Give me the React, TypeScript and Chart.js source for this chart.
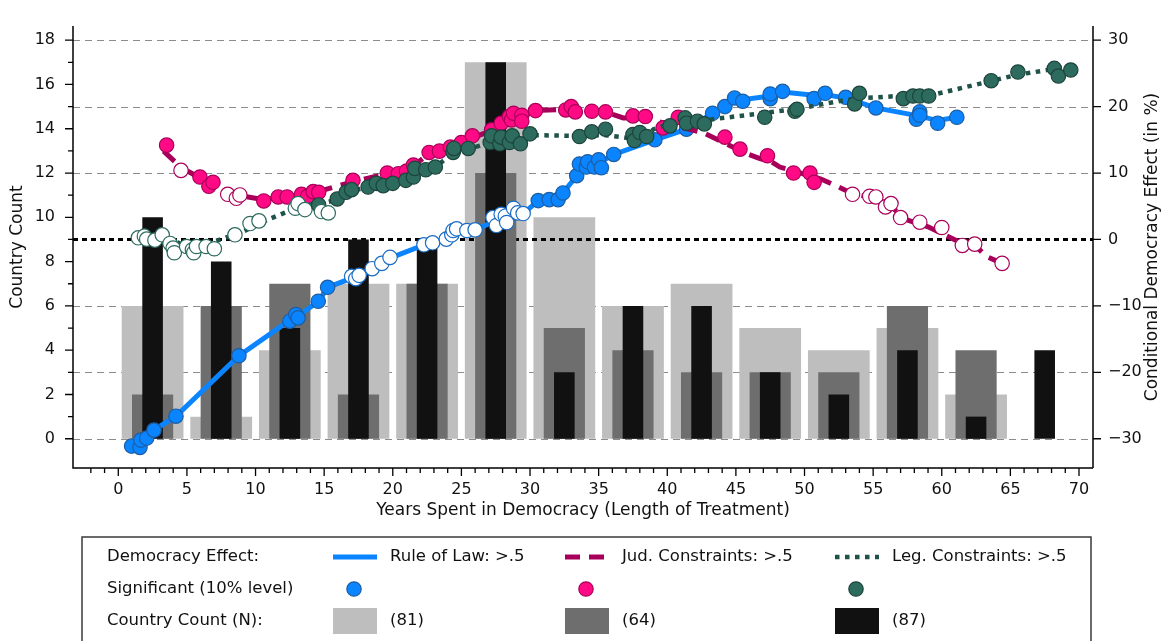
import React, { useEffect, useRef } from "react";
import { Chart, registerables } from "chart.js";

Chart.register(...registerables);

const FONT = '"DejaVu Sans", "Liberation Sans", Arial, sans-serif';

// ---------- Histogram (country counts, left axis) ----------
const binCenters = [2.5, 7.5, 12.5, 17.5, 22.5, 27.5, 32.5, 37.5, 42.5, 47.5, 52.5, 57.5, 62.5, 67.5];
const countRuleOfLaw = [6, 1, 4, 7, 7, 17, 10, 6, 7, 5, 4, 5, 2, 0];
const countJudicial = [2, 6, 7, 2, 7, 12, 5, 4, 3, 3, 3, 6, 4, 0];
const countLegislative = [10, 8, 5, 9, 9, 17, 3, 6, 6, 3, 2, 4, 1, 4];

// ---------- Tick labels ----------
const xTickValues = [0, 5, 10, 15, 20, 25, 30, 35, 40, 45, 50, 55, 60, 65, 70];
const countTickValues = [0, 2, 4, 6, 8, 10, 12, 14, 16, 18];
const effectTickValues = [-30, -20, -10, 0, 10, 20, 30];

// ---------- Axis ranges (left count axis and right effect axis share the frame) ----------
const xRange = [-3.3, 71.02];
const countRange = [-1.32, 18.64];
const countAtZeroEffect = 9;
const countPerEffectPoint = 0.3;

// ---------- Conditional democracy effect markers: [years, effect %, significant] ----------
const ruleOfLawMarkers = [
  [0.97, -31.1, 1], [1.58, -31.3, 1], [1.65, -30.2, 1], [2.07, -29.9, 1], [2.6, -28.7, 1],
  [4.2, -26.6, 1], [8.79, -17.5, 1], [12.5, -12.3, 1], [12.94, -11.3, 1], [13.1, -11.8, 1],
  [14.57, -9.3, 1], [15.25, -7.2, 1],
  [17.0, -5.55, 0], [17.3, -5.9, 0], [17.55, -5.4, 0], [18.5, -4.4, 0], [19.2, -3.6, 0],
  [19.8, -2.7, 0], [22.27, -0.8, 0], [22.9, -0.5, 0], [23.9, 0.05, 0], [24.3, 0.7, 0],
  [24.4, 1.35, 0], [24.65, 1.6, 0], [25.4, 1.35, 0], [26.0, 1.45, 0], [27.3, 3.3, 0],
  [27.55, 2.1, 0], [27.9, 3.8, 0], [28.2, 3.5, 0], [28.3, 2.55, 0], [28.8, 4.7, 0],
  [29.1, 4.0, 0], [29.5, 3.9, 0],
  [30.6, 5.85, 1], [31.4, 6.0, 1], [32.05, 6.0, 1], [32.4, 7.0, 1], [33.4, 9.6, 1],
  [33.6, 11.35, 1], [34.1, 10.9, 1], [34.2, 11.7, 1], [34.7, 10.9, 1], [35.0, 12.0, 1],
  [35.2, 10.8, 1], [36.1, 12.8, 1], [39.1, 15.0, 1], [41.4, 16.6, 1], [43.3, 19.0, 1],
  [44.2, 20.0, 1], [44.9, 21.3, 1], [45.5, 20.8, 1], [47.5, 21.2, 1], [47.5, 21.9, 1],
  [48.4, 22.3, 1], [50.7, 21.2, 1], [51.5, 22.0, 1], [53.0, 21.4, 1], [55.2, 19.8, 1],
  [58.15, 18.1, 1], [58.4, 19.2, 1], [58.4, 18.7, 1], [59.7, 17.5, 1], [61.1, 18.4, 1],
];

const judicialMarkers = [
  [3.52, 14.2, 1], [4.57, 10.4, 0], [5.95, 9.4, 1], [6.6, 8.0, 1], [6.9, 8.6, 1],
  [7.97, 6.8, 0], [8.6, 6.2, 0], [8.86, 6.7, 0],
  [10.6, 5.8, 1], [11.65, 6.4, 1], [12.3, 6.4, 1], [13.35, 6.8, 1], [13.8, 6.5, 1],
  [14.2, 7.2, 1], [14.6, 7.1, 1], [17.1, 8.9, 1], [19.6, 10.0, 1], [20.4, 9.9, 1],
  [21.0, 10.3, 1], [21.5, 11.2, 1], [22.65, 13.1, 1], [23.4, 13.3, 1], [24.2, 13.9, 1],
  [25.0, 14.6, 1], [25.8, 15.6, 1], [27.2, 16.5, 1], [27.9, 17.5, 1], [28.5, 18.5, 1],
  [28.65, 18.0, 1], [28.8, 19.0, 1], [29.4, 18.7, 1], [29.4, 17.8, 1], [30.4, 19.4, 1],
  [32.6, 19.5, 1], [33.0, 20.0, 1], [33.3, 19.2, 1], [34.5, 19.3, 1], [35.5, 19.2, 1],
  [37.5, 18.6, 1], [38.4, 18.5, 1], [39.7, 16.8, 1], [40.8, 18.4, 1], [44.2, 15.4, 1],
  [45.3, 13.6, 1], [47.3, 12.6, 1], [49.2, 10.0, 1], [50.4, 10.0, 1], [50.7, 8.6, 1],
  [53.5, 6.8, 0], [54.75, 6.5, 0], [55.2, 6.4, 0], [55.9, 4.9, 0], [56.3, 5.4, 0],
  [57.0, 3.3, 0], [58.4, 2.6, 0], [60.0, 1.8, 0], [61.5, -0.9, 0], [62.4, -0.7, 0],
  [64.4, -3.6, 0],
];

const legislativeMarkers = [
  [1.46, 0.25, 0], [1.9, 0.5, 0], [2.07, 0.05, 0], [2.67, -0.1, 0], [3.2, 0.7, 0],
  [3.77, -0.6, 0], [4.0, -1.3, 0], [4.08, -2.0, 0], [4.98, -1.06, 0], [5.4, -1.55, 0],
  [5.5, -2.0, 0], [5.7, -1.06, 0], [6.4, -1.06, 0], [7.0, -1.4, 0], [8.5, 0.7, 0],
  [9.6, 2.4, 0], [10.25, 2.8, 0], [12.9, 4.7, 0], [13.1, 5.4, 0], [13.6, 4.5, 0],
  [14.6, 5.2, 1], [14.8, 4.2, 0], [15.3, 4.0, 0],
  [15.95, 6.1, 1], [16.6, 7.1, 1], [17.0, 7.5, 1], [18.2, 7.9, 1], [18.8, 8.45, 1],
  [19.3, 8.1, 1], [20.0, 8.45, 1], [20.95, 8.9, 1], [21.5, 9.4, 1], [21.6, 10.7, 1],
  [22.4, 10.5, 1], [23.1, 10.9, 1], [24.4, 13.1, 1], [24.45, 13.7, 1], [25.5, 13.7, 1],
  [27.1, 14.6, 1], [27.2, 15.6, 1], [27.8, 14.4, 1], [27.9, 15.4, 1], [28.5, 14.6, 1],
  [28.7, 15.6, 1], [29.3, 14.4, 1], [30.0, 15.9, 1], [33.6, 15.5, 1], [34.5, 16.2, 1],
  [35.5, 16.6, 1], [37.5, 15.8, 1], [37.6, 14.9, 1], [38.0, 16.1, 1], [38.5, 15.5, 1],
  [40.2, 17.1, 1], [41.3, 18.3, 1], [41.4, 17.5, 1], [42.2, 17.8, 1], [42.7, 17.4, 1],
  [47.1, 18.4, 1], [49.3, 19.3, 1], [49.45, 19.6, 1], [53.65, 20.4, 1], [54.0, 22.0, 1],
  [57.2, 21.2, 1], [57.9, 21.6, 1], [58.4, 21.6, 1], [59.05, 21.6, 1], [63.6, 23.9, 1],
  [65.55, 25.2, 1], [68.2, 25.75, 1], [68.5, 24.6, 1], [69.4, 25.5, 1],
];

// ---------- Fitted effect lines: [years, effect %] ----------
const ruleOfLawLine = [
  [0.97, -31.1], [1.65, -30.2], [2.6, -28.7], [4.2, -26.6], [8.8, -17.5], [12.6, -12.0],
  [13.1, -11.5], [14.6, -9.3], [15.25, -7.2], [17.3, -5.6], [18.5, -4.4], [19.8, -2.8],
  [22.3, -0.8], [23.9, 0.1], [24.6, 1.2], [26.0, 1.5], [27.3, 2.6], [28.3, 3.4],
  [29.5, 3.9], [30.6, 5.85], [31.4, 6.0], [32.1, 6.1], [32.4, 7.0], [33.4, 9.6],
  [34.0, 11.2], [35.0, 11.5], [36.1, 12.8], [39.1, 15.0], [41.4, 16.6], [43.3, 19.0],
  [44.2, 20.0], [45.0, 20.9], [47.5, 21.6], [48.4, 22.2], [50.7, 21.7], [51.5, 21.8],
  [53.0, 21.3], [55.2, 19.8], [58.3, 18.6], [59.7, 17.9], [61.1, 18.4],
];
const judicialLine = [
  [3.3, 13.3], [4.6, 10.8], [6.0, 9.2], [6.9, 8.4], [8.0, 7.2], [8.9, 6.6], [10.6, 6.0],
  [11.7, 6.3], [12.3, 6.4], [14.2, 7.0], [17.1, 8.7], [19.6, 9.9], [21.0, 10.5],
  [21.5, 11.1], [22.6, 12.8], [24.2, 13.9], [25.8, 15.3], [27.2, 16.4], [28.5, 17.9],
  [29.4, 18.4], [30.4, 19.4], [32.6, 19.6], [35.5, 19.2], [36.8, 18.3], [38.4, 18.2],
  [39.1, 17.9], [40.5, 17.1], [42.6, 16.1], [43.8, 14.9], [45.8, 12.9], [46.7, 12.2],
  [47.6, 11.7], [48.2, 10.9], [51.2, 9.1], [52.3, 8.1], [53.5, 6.9], [55.2, 6.2],
  [56.3, 5.0], [57.4, 3.0], [59.0, 1.9], [60.3, 0.6], [61.5, -0.6], [62.6, -1.2],
  [63.2, -2.5], [64.4, -3.6],
];
const legislativeLine = [
  [1.46, 0.3], [3.2, 0.4], [4.5, -0.6], [5.7, -1.0], [7.3, -0.1], [9.0, 1.1], [10.9, 3.0],
  [12.1, 4.0], [13.6, 5.2], [14.6, 5.3], [16.0, 6.0], [17.0, 7.3], [18.5, 8.0],
  [20.0, 8.4], [21.0, 8.9], [21.6, 10.0], [23.1, 10.9], [24.4, 13.0], [25.5, 13.6],
  [27.1, 14.6], [28.5, 15.0], [30.0, 15.7], [33.6, 15.6], [35.5, 15.7], [37.5, 15.2],
  [38.5, 15.6], [39.0, 16.6], [40.0, 17.3], [42.5, 17.6], [43.3, 18.1], [46.9, 19.0],
  [48.8, 19.5], [50.1, 19.9], [53.0, 21.0], [54.5, 21.3], [56.9, 21.6], [59.6, 21.9],
  [63.5, 23.8], [65.5, 24.8], [68.0, 25.6],
];

const seriesStyles = [
  {
    label: "Rule of Law: >.5", markers: ruleOfLawMarkers, line: ruleOfLawLine,
    lineColor: "#0A84FF", lineWidth: 5, dash: [] as number[],
    fill: "#0A84FF", border: "#1E5DA0", openBorder: "#1A6CC4",
    barColor: "#BEBEBE", counts: countRuleOfLaw,
  },
  {
    label: "Jud. Constraints: >.5", markers: judicialMarkers, line: judicialLine,
    lineColor: "#A8005A", lineWidth: 5, dash: [15, 9],
    fill: "#FF0A84", border: "#A8005A", openBorder: "#A8005A",
    barColor: "#6E6E6E", counts: countJudicial,
  },
  {
    label: "Leg. Constraints: >.5", markers: legislativeMarkers, line: legislativeLine,
    lineColor: "#1F5248", lineWidth: 4.5, dash: [4.5, 5.5],
    fill: "#2E6B5F", border: "#1C443B", openBorder: "#2E6B5F",
    barColor: "#111111", counts: countLegislative,
  },
];

const barFractions = [0.9, 0.6, 0.3];

const sum = (a: number[]) => a.reduce((s, v) => s + v, 0);

const decorPlugin = {
  id: "decor",
  beforeDatasetsDraw(chart: any) {
    const { ctx, chartArea: a, scales } = chart;
    ctx.save();
    ctx.strokeStyle = "#8c8c8c";
    ctx.lineWidth = 1.2;
    ctx.setLineDash([7, 5]);
    for (const v of effectTickValues) {
      if (v === 0) continue;
      const py = Math.round(scales.y2.getPixelForValue(v)) + 0.5;
      ctx.beginPath();
      ctx.moveTo(a.left, py);
      ctx.lineTo(a.right, py);
      ctx.stroke();
    }
    ctx.restore();
  },
  afterDatasetDraw(chart: any, args: any) {
    if (args.index !== 0) return;
    const { ctx, chartArea: a, scales } = chart;
    const py = scales.y2.getPixelForValue(0);
    ctx.save();
    ctx.strokeStyle = "#000";
    ctx.lineWidth = 3;
    ctx.setLineDash([5, 4]);
    ctx.beginPath();
    ctx.moveTo(a.left, py);
    ctx.lineTo(a.right, py);
    ctx.stroke();
    ctx.restore();
  },
  afterDraw(chart: any) {
    const { ctx, chartArea: a, scales } = chart;
    ctx.save();
    ctx.setLineDash([]);
    ctx.strokeStyle = "#000";
    // axis lines
    ctx.lineWidth = 1.5;
    ctx.beginPath();
    ctx.moveTo(a.left, a.top);
    ctx.lineTo(a.left, a.bottom);
    ctx.lineTo(a.right, a.bottom);
    ctx.moveTo(a.right, a.top);
    ctx.lineTo(a.right, a.bottom);
    ctx.stroke();
    // ticks
    ctx.lineWidth = 1.3;
    ctx.beginPath();
    for (let v = 0; v <= countTickValues[countTickValues.length - 1]; v++) {
      const py = scales.y.getPixelForValue(v);
      const len = countTickValues.includes(v) ? 8 : 5;
      ctx.moveTo(a.left - len, py);
      ctx.lineTo(a.left, py);
    }
    for (const v of effectTickValues) {
      const py = scales.y2.getPixelForValue(v);
      ctx.moveTo(a.right, py);
      ctx.lineTo(a.right + 8, py);
    }
    for (let v = -2; v <= xTickValues[xTickValues.length - 1]; v++) {
      const px = scales.x.getPixelForValue(v);
      const len = xTickValues.includes(v) ? 8 : 5;
      ctx.moveTo(px, a.bottom);
      ctx.lineTo(px, a.bottom + len);
    }
    ctx.stroke();

    // axis titles
    ctx.fillStyle = "#111";
    ctx.font = `17px ${FONT}`;
    ctx.textAlign = "center";
    ctx.textBaseline = "middle";
    const midY = (a.top + a.bottom) / 2;
    ctx.fillText("Years Spent in Democracy (Length of Treatment)", (a.left + a.right) / 2, a.bottom + 43);
    ctx.save();
    ctx.translate(18, midY);
    ctx.rotate(-Math.PI / 2);
    ctx.fillText("Country Count", 0, 0);
    ctx.restore();
    ctx.save();
    ctx.translate(a.right + 60, midY);
    ctx.rotate(-Math.PI / 2);
    ctx.fillText("Conditional Democracy Effect (in %)", 0, 0);
    ctx.restore();

    // legend box
    const boxTop = 537;
    ctx.strokeStyle = "#3a3a3a";
    ctx.lineWidth = 1.5;
    ctx.strokeRect(82, boxTop, 1009, 140);
    const rows = [557, 589, 621];
    const cols = [333, 565, 835];
    const sw = 44;
    ctx.font = `16.5px ${FONT}`;
    ctx.textAlign = "left";
    ctx.fillStyle = "#111";
    ctx.fillText("Democracy Effect:", 107, rows[0]);
    ctx.fillText("Significant (10% level)", 107, rows[1]);
    ctx.fillText("Country Count (N):", 107, rows[2]);
    seriesStyles.forEach((s, i) => {
      const cx = cols[i];
      // line sample
      ctx.save();
      ctx.strokeStyle = s.lineColor;
      ctx.lineWidth = s.lineWidth;
      ctx.setLineDash(s.dash);
      ctx.beginPath();
      ctx.moveTo(cx, rows[0]);
      ctx.lineTo(cx + sw, rows[0]);
      ctx.stroke();
      ctx.restore();
      ctx.fillStyle = "#111";
      ctx.fillText(s.label, cx + 57, rows[0]);
      // marker sample
      ctx.beginPath();
      ctx.arc(cx + 21, rows[1], 7.2, 0, Math.PI * 2);
      ctx.fillStyle = s.fill;
      ctx.fill();
      ctx.lineWidth = 1.2;
      ctx.strokeStyle = s.border;
      ctx.stroke();
      // bar sample
      ctx.fillStyle = s.barColor;
      ctx.fillRect(cx, rows[2] - 13, sw, 26);
      ctx.fillStyle = "#111";
      ctx.fillText(`(${sum(s.counts)})`, cx + 57, rows[2]);
    });
    ctx.restore();
  },
};

export default function App() {
  const canvasRef = useRef<HTMLCanvasElement | null>(null);

  useEffect(() => {
    if (!canvasRef.current) return;
    const effectMin = (countRange[0] - countAtZeroEffect) / countPerEffectPoint;
    const effectMax = (countRange[1] - countAtZeroEffect) / countPerEffectPoint;

    const barDatasets = seriesStyles.map((s, i) => ({
      type: "bar" as const,
      data: binCenters.map((x, k) => ({ x, y: s.counts[k] })),
      backgroundColor: s.barColor,
      borderWidth: 0,
      grouped: false,
      categoryPercentage: 1,
      barPercentage: barFractions[i],
      xAxisID: "x",
      yAxisID: "y",
      order: 8 - i,
    }));

    const seriesDatasets: any[] = [];
    seriesStyles.forEach((s, i) => {
      seriesDatasets.push({
        type: "line",
        data: s.line.map(([x, y]) => ({ x, y })),
        borderColor: s.lineColor,
        borderWidth: s.lineWidth,
        borderDash: s.dash,
        borderCapStyle: "butt",
        pointRadius: 0,
        fill: false,
        tension: 0,
        xAxisID: "x",
        yAxisID: "y2",
        order: 5 - i * 2,
      });
      seriesDatasets.push({
        type: "scatter",
        data: s.markers.map(([x, y]) => ({ x, y })),
        showLine: false,
        pointRadius: 7.2,
        pointBorderWidth: 1.2,
        pointBackgroundColor: (c: any) => (s.markers[c.dataIndex]?.[2] ? s.fill : "#ffffff"),
        pointBorderColor: (c: any) => (s.markers[c.dataIndex]?.[2] ? s.border : s.openBorder),
        xAxisID: "x",
        yAxisID: "y2",
        order: 4 - i * 2,
      });
    });

    const tickFont = { family: FONT, size: 16, lineHeight: 1 };

    const chart = new Chart(canvasRef.current, {
      type: "scatter",
      data: { datasets: [...barDatasets, ...seriesDatasets] as any },
      options: {
        animation: false,
        responsive: false,
        devicePixelRatio: 1,
        events: [],
        layout: { padding: { top: 9, bottom: 123, left: 0, right: 0 } },
        plugins: { legend: { display: false }, tooltip: { enabled: false } },
        scales: {
          x: {
            type: "linear",
            position: "bottom",
            min: xRange[0],
            max: xRange[1],
            offset: false,
            grid: { display: false, drawTicks: false, offset: false },
            border: { display: false },
            afterBuildTicks: (sc: any) => {
              sc.ticks = xTickValues.map((v) => ({ value: v }));
            },
            afterFit: (sc: any) => {
              sc.height = 50;
            },
            ticks: {
              autoSkip: false,
              maxRotation: 0,
              padding: 14,
              color: "#111",
              font: tickFont,
              callback: (v: any) => String(v),
            },
          },
          y: {
            type: "linear",
            position: "left",
            min: countRange[0],
            max: countRange[1],
            grid: { display: false, drawTicks: false },
            border: { display: false },
            afterBuildTicks: (sc: any) => {
              sc.ticks = countTickValues.map((v) => ({ value: v }));
            },
            afterFit: (sc: any) => {
              sc.width = 73;
            },
            ticks: {
              padding: 18,
              color: "#111",
              font: tickFont,
              callback: (v: any) => String(v),
            },
          },
          y2: {
            type: "linear",
            position: "right",
            min: effectMin,
            max: effectMax,
            grid: { display: false, drawTicks: false },
            border: { display: false },
            afterBuildTicks: (sc: any) => {
              sc.ticks = effectTickValues.map((v) => ({ value: v }));
            },
            afterFit: (sc: any) => {
              sc.width = 76;
            },
            ticks: {
              padding: 15,
              color: "#111",
              font: tickFont,
              callback: (v: any) => (Number(v) < 0 ? "\u2212" + Math.abs(Number(v)) : String(v)),
            },
          },
        },
      } as any,
      plugins: [decorPlugin],
    });

    return () => chart.destroy();
  }, []);

  return (
    <div style={{ position: "absolute", left: 0, top: 0, width: 1169, height: 641, background: "#fff" }}>
      <canvas ref={canvasRef} width={1169} height={641} style={{ display: "block" }} />
    </div>
  );
}
